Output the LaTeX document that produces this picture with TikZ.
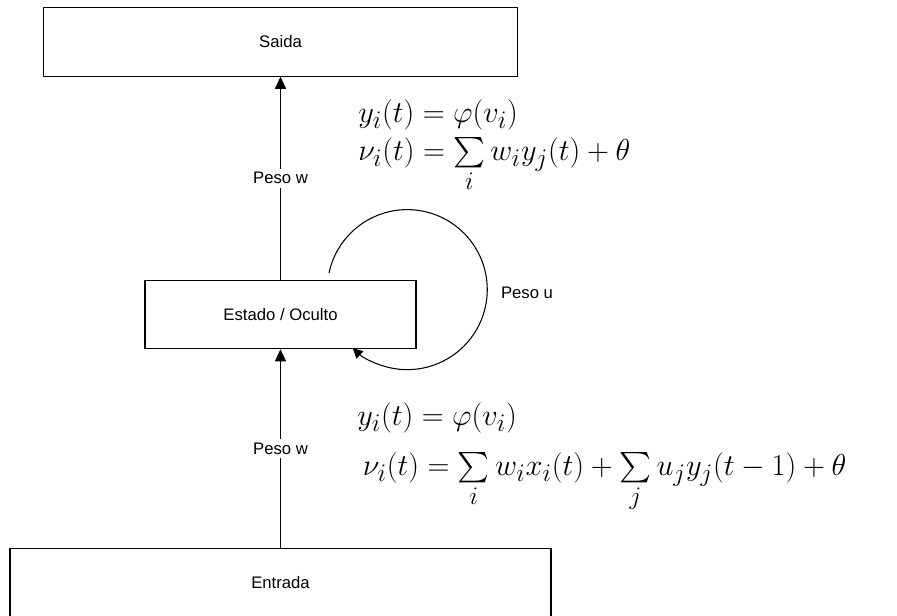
\documentclass[tikz,border=0pt]{standalone}
\usepackage{amsmath}
\usepackage[no-math]{fontspec}
\newfontfamily\labelfont{Liberation Sans}
\usetikzlibrary{arrows.meta, positioning, calc}

\begin{document}
\begin{tikzpicture}[
    >={Triangle[length=2.4mm, width=2.2mm]},
    layer/.style={
        draw=black, line width=0.6pt, fill=white, inner sep=0pt,
        minimum height=1.37cm, font=\labelfont\fontsize{9.5}{11}\selectfont
    },
    weight/.style={fill=white, inner sep=2pt, font=\labelfont\fontsize{9.5}{11}\selectfont},
    eqn/.style={anchor=north west, inner sep=0pt, align=left, font=\fontsize{19}{22}\selectfont},
    every edge/.style={draw, ->, line width=0.6pt},
]
\useasboundingbox (0,0) rectangle (17.94,12.32);

% ---- layers, top to bottom ----
\node[layer, minimum width=9.48cm] (saida) at (5.61, 11.48) {Saida};
\node[layer, minimum width=5.42cm] (estado) at (5.61, 6.03) {Estado / Oculto};
\node[layer, minimum width=10.82cm] (entrada) at (5.61, 0.66) {Entrada};

% ---- forward edges ----
\draw (estado) edge node[weight] {Peso w} (saida);
\draw (entrada) edge node[weight] {Peso w} (estado);

% ---- recurrent loop on the hidden layer ----
\coordinate (loopstart) at (6.58, 6.86);
\draw[-{Triangle[length=2mm, width=2mm]}, line width=0.6pt]
    (loopstart) arc[start angle=168, end angle=-133, radius=1.6];
\node[weight] (pesou) at (10.54, 6.46) {Peso u};

% ---- equations ----
\node[eqn] (outeq) at (7.16, 10.34)
    {$y_i(t) = \varphi(v_i)$\\
     $\nu_i(t) = \sum\limits_i w_i y_j(t) + \theta$};
\node[eqn] (hideq) at (7.14, 4.28)
    {$y_i(t) = \varphi(v_i)$\\[6.5pt]
     \,$\nu_i(t) = \sum\limits_i w_i x_i(t) + \sum\limits_j u_j y_j(t-1) + \theta$};

\end{tikzpicture}
\end{document}
